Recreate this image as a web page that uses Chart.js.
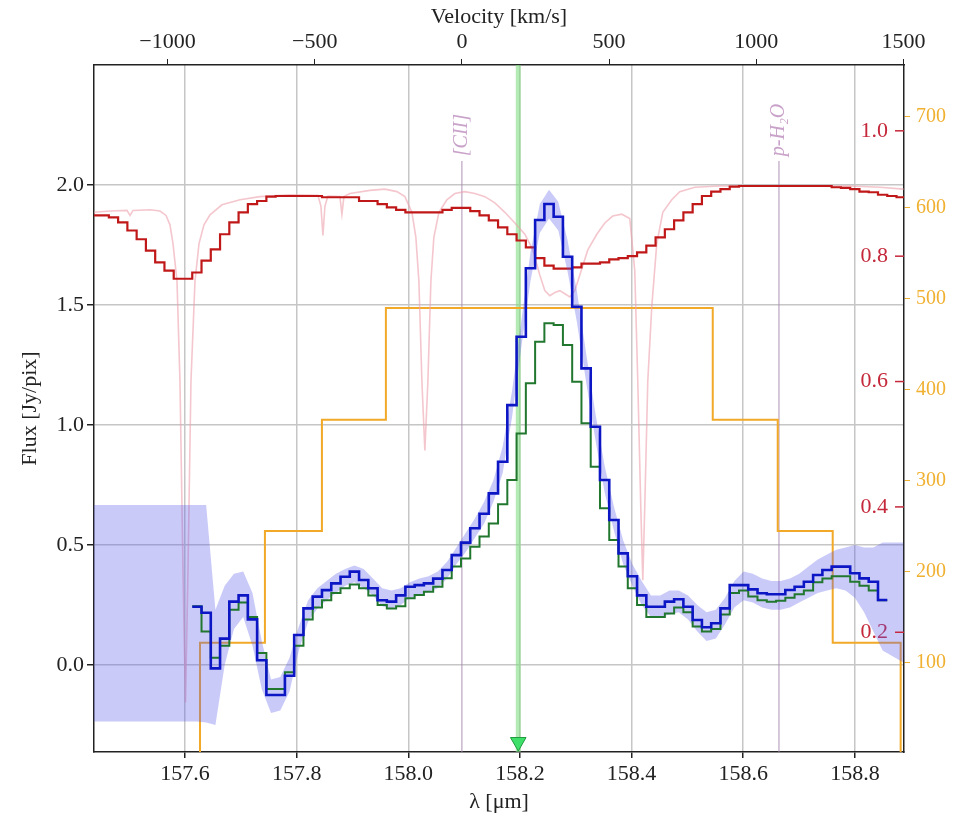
<!DOCTYPE html>
<html>
<head>
<meta charset="utf-8">
<title>[CII] spectrum</title>
<script src="https://cdn.jsdelivr.net/npm/chart.js@4.4.1/dist/chart.umd.min.js"></script>
<style>
  html, body { margin: 0; padding: 0; background: #fff; }
  #wrap { width: 958px; height: 818px; }
</style>
</head>
<body>
<div id="wrap"><canvas id="chart" width="958" height="818"></canvas></div>
<script>
// spectral bins of the cube (micron): left edge of the first bin, bin width
const binStart = 157.613, binWidth = 0.0166;

// flux per bin [Jy/pix]
const fluxBlue = [
  0.243, 0.218, -0.014, 0.11, 0.264, 0.29, 0.19, 0.02, -0.125, -0.125,
  -0.045, 0.125, 0.236, 0.285, 0.312, 0.34, 0.368, 0.389, 0.354, 0.32,
  0.27, 0.264, 0.29, 0.326, 0.333, 0.34, 0.36, 0.396, 0.458, 0.51,
  0.57, 0.63, 0.715, 0.847, 1.083, 1.368, 1.653, 1.854, 1.921, 1.868,
  1.701, 1.493, 1.236, 0.993, 0.771, 0.604, 0.465, 0.37, 0.29, 0.243,
  0.243, 0.264, 0.274, 0.243, 0.1875, 0.157, 0.174, 0.236, 0.333, 0.333,
  0.315, 0.299, 0.295, 0.295, 0.3125, 0.326, 0.347, 0.375, 0.396, 0.41,
  0.41, 0.382, 0.361, 0.347, 0.271
];
const fluxGreen = [
  0.245, 0.14, 0.03, 0.08, 0.23, 0.26, 0.2, 0.05, -0.10, -0.10,
  -0.03, 0.08, 0.19, 0.24, 0.27, 0.30, 0.32, 0.335, 0.32, 0.29,
  0.25, 0.235, 0.245, 0.278, 0.292, 0.305, 0.326, 0.361, 0.41, 0.444,
  0.493, 0.535, 0.59, 0.67, 0.771, 0.965, 1.174, 1.347, 1.424, 1.417,
  1.333, 1.18, 1.007, 0.826, 0.653, 0.521, 0.41, 0.32, 0.25, 0.2,
  0.2, 0.215, 0.24, 0.22, 0.16, 0.14, 0.15, 0.21, 0.30, 0.31,
  0.285, 0.27, 0.264, 0.268, 0.28, 0.295, 0.31, 0.345, 0.36, 0.37,
  0.37, 0.347, 0.33, 0.31, 0.27
];

// error envelope: outer ends plus one value per bin centre
const errEndLam = [157.437, 158.887];
const errHi = [
  0.667,
  0.667, 0.667, 0.23, 0.33, 0.38, 0.39, 0.3, 0.1, -0.06, -0.05,
  0.03, 0.16, 0.27, 0.32, 0.35, 0.38, 0.40, 0.415, 0.40, 0.36,
  0.32, 0.31, 0.32, 0.345, 0.36, 0.37, 0.39, 0.43, 0.49, 0.55,
  0.61, 0.68, 0.77, 0.91, 1.14, 1.43, 1.72, 1.92, 1.98, 1.93,
  1.77, 1.56, 1.30, 1.05, 0.83, 0.66, 0.52, 0.42, 0.35, 0.29,
  0.29, 0.31, 0.31, 0.29, 0.25, 0.22, 0.23, 0.28, 0.35, 0.39,
  0.38, 0.36, 0.35, 0.35, 0.36, 0.38, 0.41, 0.44, 0.46, 0.48,
  0.49, 0.50, 0.49, 0.49, 0.51,
  0.51
];
const errLo = [
  -0.235,
  -0.235, -0.24, -0.25, 0.0, 0.15, 0.2, 0.08, -0.1, -0.2, -0.19,
  -0.11, 0.06, 0.18, 0.235, 0.27, 0.30, 0.33, 0.345, 0.32, 0.29,
  0.245, 0.235, 0.25, 0.28, 0.29, 0.305, 0.32, 0.36, 0.42, 0.47,
  0.53, 0.59, 0.68, 0.80, 1.03, 1.32, 1.60, 1.80, 1.86, 1.81,
  1.64, 1.43, 1.18, 0.94, 0.72, 0.56, 0.42, 0.33, 0.25, 0.20,
  0.20, 0.21, 0.22, 0.19, 0.14, 0.10, 0.11, 0.17, 0.24, 0.27,
  0.26, 0.24, 0.23, 0.23, 0.24, 0.26, 0.28, 0.30, 0.31, 0.32,
  0.31, 0.28, 0.22, 0.14, 0.06,
  0.01
];

// atmospheric transmission, binned to the cube grid (starts further left)
const atmStart = 157.4304;
const atmBinned = [
  0.865, 0.865, 0.862, 0.854, 0.841, 0.827, 0.809, 0.79, 0.777, 0.764,
  0.764, 0.774, 0.793, 0.811, 0.835, 0.854, 0.87, 0.883, 0.888, 0.895,
  0.896, 0.896, 0.896, 0.896, 0.896, 0.894, 0.894, 0.894, 0.894, 0.888,
  0.888, 0.883, 0.878, 0.874, 0.870, 0.870, 0.870, 0.870, 0.874, 0.877,
  0.877, 0.872, 0.865, 0.857, 0.846, 0.835, 0.825, 0.814, 0.797, 0.785,
  0.78, 0.78, 0.782, 0.788, 0.788, 0.79, 0.795, 0.797, 0.80, 0.806,
  0.817, 0.83, 0.843, 0.857, 0.87, 0.883, 0.896, 0.903, 0.907, 0.911,
  0.912, 0.912, 0.912, 0.912, 0.912, 0.912, 0.912, 0.912, 0.912, 0.912,
  0.91, 0.909, 0.907, 0.903, 0.902, 0.898, 0.896, 0.894
];

// atmospheric transmission at full resolution
const atmLam = [
  157.4371, 157.4657, 157.4961, 157.5015, 157.5069, 157.5373, 157.5552, 157.5660, 157.5731, 157.5785,
  157.5857, 157.5910, 157.5964, 157.6009, 157.6054, 157.6107, 157.6179, 157.6251, 157.6340, 157.6448,
  157.6662, 157.6985, 157.7343, 157.7880, 157.8381, 157.8435, 157.8471, 157.8507, 157.8560, 157.8775,
  157.8811, 157.8847, 157.8954, 157.9312, 157.9581, 157.9796, 157.9939, 158.0065, 158.0136, 158.0190,
  158.0244, 158.0297, 158.0351, 158.0405, 158.0458, 158.0548, 158.0691, 158.0834, 158.1013, 158.1193,
  158.1372, 158.1551, 158.1730, 158.1909, 158.2088, 158.2231, 158.2356, 158.2446, 158.2535, 158.2625,
  158.2714, 158.2804, 158.2894, 158.2983, 158.3073, 158.3216, 158.3377, 158.3520, 158.3663, 158.3825,
  158.3968, 158.4057, 158.4111, 158.4165, 158.4201, 158.4236, 158.4290, 158.4362, 158.4451, 158.4559,
  158.4720, 158.4863, 158.5132, 158.5579, 158.7907, 158.8444, 158.8874
];
const atmHiRes = [
  0.870, 0.872, 0.873, 0.865, 0.873, 0.874, 0.872, 0.865, 0.85, 0.82,
  0.76, 0.6, 0.3, 0.088, 0.3, 0.6, 0.76, 0.82, 0.85, 0.866,
  0.882, 0.89, 0.895, 0.898, 0.897, 0.88, 0.833, 0.88, 0.896, 0.895,
  0.867, 0.895, 0.9, 0.905, 0.907, 0.903, 0.895, 0.87, 0.83, 0.76,
  0.6, 0.49, 0.6, 0.76, 0.83, 0.87, 0.89, 0.9, 0.903, 0.9,
  0.895, 0.885, 0.87, 0.853, 0.835, 0.81, 0.77, 0.745, 0.737, 0.742,
  0.745, 0.74, 0.735, 0.745, 0.77, 0.81, 0.835, 0.853, 0.864, 0.867,
  0.86, 0.777, 0.6, 0.4, 0.283, 0.4, 0.6, 0.72, 0.82, 0.87,
  0.89, 0.903, 0.91, 0.912, 0.912, 0.91, 0.907
];

// channel width [km/s] between wavelength edges
const chanEdges = [157.6269, 157.7432, 157.8453, 157.9599, 158.5454, 158.6618, 158.7603, 158.8820];
const chanWidth = [122, 245, 367, 490, 367, 245, 122];

// line markers
const lamGreen = 158.197, lamCII = 158.096, lamH2O = 158.664;
const lineLabels = [{ lam: lamCII, text: '[CII]' }, { lam: lamH2O, text: 'p-H\u2082O' }];

// axes
const xMin = 157.437, xMax = 158.888;
const fluxMin = -0.3625, fluxMax = 2.5;
const transMin = 0.009, transMax = 1.105;
const widthMin = 2, widthMax = 757;
const lamTicks = [157.6, 157.8, 158.0, 158.2, 158.4, 158.6, 158.8];
const velTicks = [-1000, -500, 0, 500, 1000, 1500];
const fluxTicks = [0.0, 0.5, 1.0, 1.5, 2.0];
const transTicks = [0.2, 0.4, 0.6, 0.8, 1.0];
const widthTicks = [100, 200, 300, 400, 500, 600, 700];

const cLight = 299792.458;
const FONT = "'Liberation Serif', 'Times New Roman', serif";
const INK = '#222';
const RED = '#c4283a', ORANGE = '#f0b030';

Chart.defaults.font.family = FONT;
Chart.defaults.color = INK;

// points on the bin edges, drawn with stepped:'before' (flat over each bin)
function stepPoints(start, width, vals) {
  const pts = vals.map((v, i) => ({ x: start + i * width, y: v }));
  pts.push({ x: start + vals.length * width, y: vals[vals.length - 1] });
  return pts;
}

const bandLam = [errEndLam[0]];
fluxBlue.forEach((v, i) => bandLam.push(binStart + (i + 0.5) * binWidth));
bandLam.push(errEndLam[1]);

const chanPts = [{ x: chanEdges[0], y: 0 }];
chanWidth.forEach((w, i) => chanPts.push({ x: chanEdges[i], y: w }));
chanPts.push({ x: chanEdges[chanEdges.length - 1], y: 0 });

const setTicks = list => scale => { scale.ticks = list.map(v => ({ value: v })); };

const overlay = {
  id: 'overlay',
  afterDatasetsDraw(chart) {
    const { ctx, chartArea, scales } = chart;
    ctx.save();
    ctx.strokeStyle = RED;
    ctx.lineWidth = 1.5;
    transTicks.forEach(v => {
      const y = scales.yT.getPixelForValue(v);
      ctx.beginPath();
      ctx.moveTo(chartArea.right - 9, y);
      ctx.lineTo(chartArea.right, y);
      ctx.stroke();
    });
    ctx.font = 'italic 20px ' + FONT;
    ctx.fillStyle = '#c9a2c9';
    ctx.textAlign = 'left';
    ctx.textBaseline = 'middle';
    lineLabels.forEach(l => {
      ctx.save();
      ctx.translate(scales.x.getPixelForValue(l.lam), scales.y.getPixelForValue(2.12));
      ctx.rotate(-Math.PI / 2);
      ctx.fillText(l.text, 0, 0);
      ctx.restore();
    });
    ctx.restore();
  }
};

const line = (data, color, width, extra) => Object.assign({
  data: data, borderColor: color, borderWidth: width, pointRadius: 0, fill: false, tension: 0
}, extra || {});

new Chart(document.getElementById('chart'), {
  type: 'line',
  data: {
    datasets: [
      line([{ x: lamGreen, y: -0.321 }], '#1f9a3e', 1, {
        showLine: false, pointRadius: 9, pointStyle: 'triangle', pointRotation: 180,
        pointBackgroundColor: '#3ee06a', pointBorderColor: '#1f9a3e'
      }),
      line(stepPoints(binStart, binWidth, fluxBlue), '#0c16c4', 2.6, { stepped: 'before' }),
      line(stepPoints(binStart, binWidth, fluxGreen), '#22772f', 2, { stepped: 'before' }),
      line(errHi.map((v, i) => ({ x: bandLam[i], y: v })), 'rgba(0,0,0,0)', 0, {
        fill: '+1', backgroundColor: 'rgba(90,90,235,0.32)'
      }),
      line(errLo.map((v, i) => ({ x: bandLam[i], y: v })), 'rgba(0,0,0,0)', 0),
      line(stepPoints(atmStart, binWidth, atmBinned), '#c01818', 2.2, { stepped: 'before', yAxisID: 'yT' }),
      line(atmHiRes.map((v, i) => ({ x: atmLam[i], y: v })), 'rgba(236,160,172,0.6)', 1.6, { yAxisID: 'yT' }),
      line(chanPts, '#f2a928', 2, { stepped: 'before', yAxisID: 'yW' }),
      line([{ x: lamGreen, y: fluxMin }, { x: lamGreen, y: fluxMax }], 'rgba(130,222,130,0.6)', 5),
      line([{ x: lamCII, y: 2.1 }, { x: lamCII, y: fluxMin }], 'rgba(165,135,175,0.7)', 1.3),
      line([{ x: lamH2O, y: 2.1 }, { x: lamH2O, y: fluxMin }], 'rgba(165,135,175,0.7)', 1.3)
    ]
  },
  options: {
    responsive: false,
    animation: false,
    layout: { padding: 0 },
    plugins: { legend: { display: false }, tooltip: { enabled: false } },
    scales: {
      x: {
        type: 'linear', position: 'bottom', min: xMin, max: xMax,
        afterBuildTicks: setTicks(lamTicks),
        afterFit: s => { s.height = 66; },
        ticks: { callback: v => v.toFixed(1), font: { size: 22 }, padding: 3, autoSkip: false, maxRotation: 0 },
        grid: { color: '#c6c6c6', lineWidth: 1.5, tickColor: INK, tickLength: 6 },
        border: { color: INK, width: 1.5 },
        title: { display: true, text: '\u03bb [\u03bcm]', font: { size: 22 }, padding: { top: 0, bottom: 3 } }
      },
      x2: {
        type: 'linear', position: 'top',
        min: cLight * (xMin / lamCII - 1), max: cLight * (xMax / lamCII - 1),
        afterBuildTicks: setTicks(velTicks),
        afterFit: s => { s.height = 65; },
        ticks: {
          callback: v => (v < 0 ? '\u2212' + Math.abs(v) : String(v)),
          font: { size: 22 }, padding: 4, autoSkip: false, maxRotation: 0
        },
        grid: { drawOnChartArea: false, tickColor: INK, tickLength: 6 },
        border: { color: INK, width: 1.5 },
        title: { display: true, text: 'Velocity [km/s]', font: { size: 22 }, padding: { top: 4, bottom: 0 } }
      },
      y: {
        type: 'linear', position: 'left', min: fluxMin, max: fluxMax,
        afterBuildTicks: setTicks(fluxTicks),
        afterFit: s => { s.width = 94; },
        ticks: { callback: v => v.toFixed(1), font: { size: 22 }, padding: 3, autoSkip: false },
        grid: { color: '#c6c6c6', lineWidth: 1.5, tickColor: INK, tickLength: 7 },
        border: { color: INK, width: 1.5 },
        title: { display: true, text: 'Flux [Jy/pix]', font: { size: 22 }, padding: { top: 17, bottom: 0 } }
      },
      yT: {
        type: 'linear', position: 'right', weight: 0, min: transMin, max: transMax,
        afterBuildTicks: setTicks(transTicks),
        afterFit: s => { s.width = 0; },
        ticks: { callback: v => v.toFixed(1), color: RED, font: { size: 22 }, mirror: true, padding: -16, autoSkip: false },
        grid: { display: false },
        border: { display: false }
      },
      yW: {
        type: 'linear', position: 'right', weight: 1, min: widthMin, max: widthMax,
        afterBuildTicks: setTicks(widthTicks),
        afterFit: s => { s.width = 54; },
        ticks: { callback: v => String(v), color: ORANGE, font: { size: 20 }, padding: 6, autoSkip: false },
        grid: { drawOnChartArea: false, tickColor: ORANGE, tickLength: 6 },
        border: { color: INK, width: 1.5 }
      }
    }
  },
  plugins: [overlay]
});
</script>
</body>
</html>
